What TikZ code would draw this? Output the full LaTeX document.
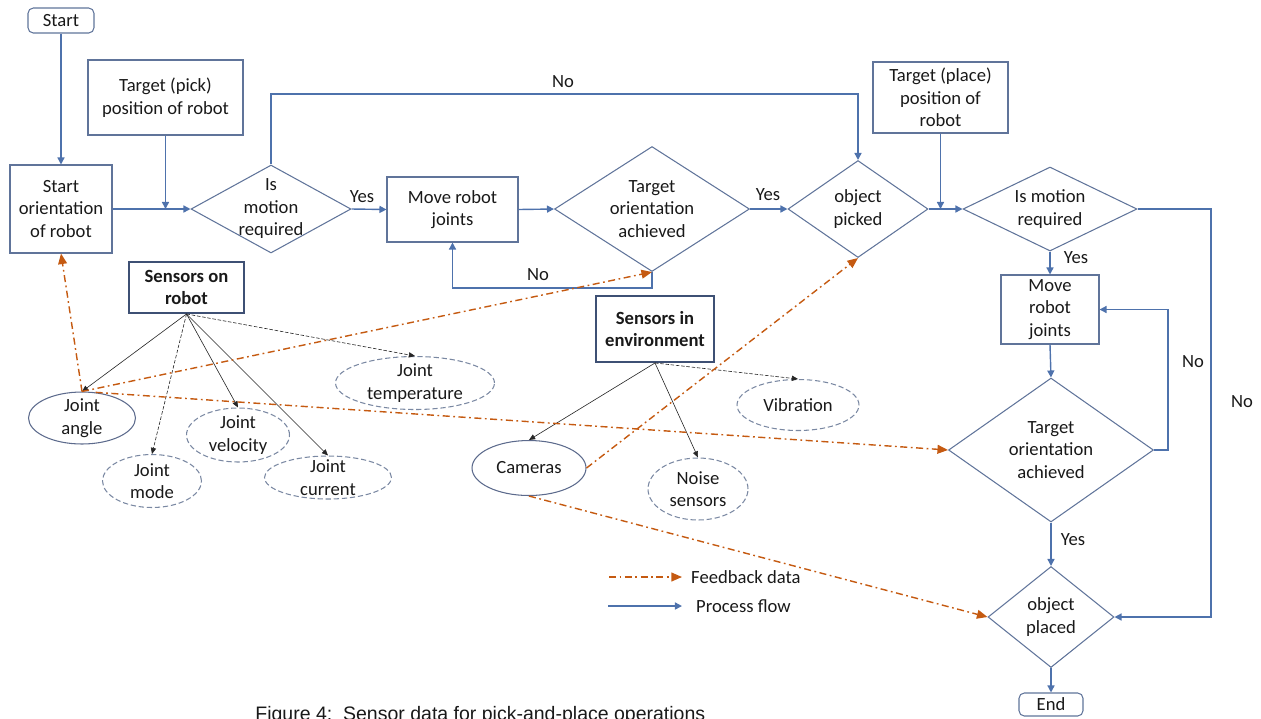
\documentclass[tikz,border=0pt]{standalone}
\usepackage{fontspec}
\setmainfont{Carlito}
\newfontfamily\capfont{Liberation Sans}
\usetikzlibrary{shapes.geometric,arrows.meta,calc}

\definecolor{txt}{RGB}{25,25,25}
\definecolor{shapeline}{RGB}{96,116,154}
\definecolor{sensline}{RGB}{62,80,116}
\definecolor{ellsolid}{RGB}{92,106,140}
\definecolor{elldash}{RGB}{122,136,162}
\definecolor{flowblue}{RGB}{78,114,172}
\definecolor{fborange}{RGB}{197,90,17}

\tikzset{
  base/.style={font=\fontsize{10.6}{12.8}\selectfont, text=txt, align=center},
  procbox/.style={base, rectangle, draw=shapeline, line width=0.6pt, inner sep=0pt},
  termbox/.style={procbox, rounded corners=3pt},
  decision/.style={base, diamond, draw=shapeline, line width=0.6pt, inner sep=-40pt},
  sensorbox/.style={rectangle, draw=sensline, line width=1.1pt, inner sep=0pt,
    text=txt, align=center, font=\fontsize{10.6}{12.8}\selectfont\bfseries},
  meas/.style={base, ellipse, draw=ellsolid, line width=0.6pt, inner sep=-30pt},
  measdash/.style={meas, draw=elldash, dash pattern=on 3pt off 1.6pt},
  flow/.style={draw=flowblue, line width=0.8pt, -{Triangle[length=4pt,width=4pt]}},
  feedback/.style={draw=fborange, line width=0.8pt,
    dash pattern=on 4pt off 2pt on 1pt off 2pt, -{Triangle[length=6pt,width=5pt]}},
  probe/.style={draw=black!85, line width=0.35pt, -{Triangle[length=3.5pt,width=3pt]}},
  probedash/.style={probe, dash pattern=on 2pt off 1pt},
  lbl/.style={base}
}

\begin{document}
\begin{tikzpicture}[x=0.02cm, y=-0.02cm]
\useasboundingbox (0,0) rectangle (1261,718);

% ---- pick phase ----
\node[termbox, minimum width=1.32cm, minimum height=0.5cm] (start) at (61,20.5) {Start};
\node[procbox, minimum width=2.04cm, minimum height=1.76cm] (sor) at (61,209) {Start\\orientation\\of robot};
\node[procbox, minimum width=3.1cm, minimum height=1.5cm] (tpick) at (165.5,97.5) {Target (pick)\\position of robot};
\node[decision, minimum width=3.2cm, minimum height=1.76cm] (d1) at (271,209) {Is\\motion\\required};
\node[procbox, minimum width=2.62cm, minimum height=1.3cm] (mrj1) at (452.5,209.5) {Move robot\\joints};
\node[decision, minimum width=3.9cm, minimum height=2.5cm] (d2) at (652,209) {Target\\orientation\\achieved};
\node[decision, minimum width=2.8cm, minimum height=1.94cm] (opick) at (858,209) {object\\picked};

% ---- place phase ----
\node[procbox, minimum width=2.7cm, minimum height=1.42cm] (tplace) at (940.5,97.5) {Target (place)\\position of\\robot};
\node[decision, minimum width=3.48cm, minimum height=1.68cm] (d3) at (1050,209) {Is motion\\required};
\node[procbox, minimum width=1.96cm, minimum height=1.38cm] (mrj2) at (1050,309.5) {Move\\robot\\joints};
\node[decision, minimum width=4.1cm, minimum height=2.88cm] (d4) at (1051,450) {Target\\orientation\\achieved};
\node[decision, minimum width=2.52cm, minimum height=2.02cm] (oplace) at (1051,617) {object\\placed};
\node[termbox, minimum width=1.28cm, minimum height=0.46cm] (endn) at (1051,704.5) {End};

% ---- sensors ----
\node[sensorbox, minimum width=2.3cm, minimum height=1.02cm] (srob) at (186.5,287.5) {Sensors on\\robot};
\node[sensorbox, minimum width=2.36cm, minimum height=1.32cm] (senv) at (655,329) {Sensors in\\environment};

\node[meas, minimum width=2.14cm, minimum height=1.04cm] (jangle) at (82,418) {Joint\\angle};
\node[measdash, minimum width=2.06cm, minimum height=1.08cm] (jvel) at (238,435) {Joint\\velocity};
\node[measdash, minimum width=3.18cm, minimum height=1.06cm] (jtemp) at (415,383) {Joint\\temperature};
\node[measdash, minimum width=1.98cm, minimum height=1.06cm] (jmode) at (152,481) {Joint\\mode};
\node[measdash, minimum width=2.54cm, minimum height=0.86cm] (jcur) at (328,477.5) {Joint\\current};
\node[meas, minimum width=2.28cm, minimum height=1.1cm] (cam) at (529,468) {Cameras};
\node[measdash, minimum width=2.0cm, minimum height=1.24cm] (noise) at (698,489) {Noise\\sensors};
\node[measdash, minimum width=2.44cm, minimum height=1.02cm] (vib) at (798,405) {Vibration};

% ---- branch labels ----
\node[lbl] (lno1) at (563,82) {No};
\node[lbl] (lyes1) at (362,197) {Yes};
\node[lbl] (lno2) at (538,275) {No};
\node[lbl] (lyes2) at (768,195) {Yes};
\node[lbl] (lyes3) at (1076,258) {Yes};
\node[lbl] (lno3) at (1193,362) {No};
\node[lbl] (lno4) at (1242,402) {No};
\node[lbl] (lyes4) at (1073,540) {Yes};

% ---- routing points ----
\coordinate (noline) at (0,94);
\coordinate (loopbot) at (0,288);
\coordinate (rightrail) at (1211,617);
\coordinate (innerrail) at (1168,309.5);

% ---- process flow ----
\draw[flow] (start.south) -- (sor.north);
\draw[flow] (sor.east) -- (d1.west);
\draw[flow] (tpick.south) -- (tpick.south |- sor.east);
\draw[flow] (d1.north) -- (d1.north |- noline) -- (opick.north |- noline) -- (opick.north);
\draw[flow] (d1.east) -- (mrj1.west);
\draw[flow] (mrj1.east) -- (d2.west);
\draw[flow] (d2.south) -- (d2.south |- loopbot) -- (mrj1.south |- loopbot) -- (mrj1.south);
\draw[flow] (d2.east) -- (opick.west);
\draw[flow] (opick.east) -- (d3.west);
\draw[flow] (tplace.south) -- (tplace.south |- opick.east);
\draw[flow] (d3.south) -- (mrj2.north);
\draw[flow] (d3.east) -| (rightrail) -- (oplace.east);
\draw[flow] (mrj2.south) -- (d4.north);
\draw[flow] (d4.east) -| (innerrail) -- (mrj2.east);
\draw[flow] (d4.south) -- (oplace.north);
\draw[flow] (oplace.south) -- (endn.north);

% ---- sensor fan-out ----
\draw[probe] (srob.south) -- (jangle.north);
\draw[probedash] (srob.south) -- (jmode.north);
\draw[probe] (srob.south) -- (jvel.north);
\draw[probe] (srob.south) -- (jcur.north);
\draw[probedash] (srob.south) -- (jtemp.north);
\draw[probe] (senv.south) -- (cam.north);
\draw[probe] (senv.south) -- (noise.north);
\draw[probedash] (senv.south) -- (vib.north);

% ---- feedback data ----
\draw[feedback] (jangle.north) -- (sor.south);
\draw[feedback] (jangle.north) -- (d2.south);
\draw[feedback] (jangle.62) -- (d4.west);
\draw[feedback] (cam.east) -- (opick.south);
\draw[feedback] (cam.south) -- (oplace.west);

% ---- legend ----
\coordinate (fbA) at (609,577);
\coordinate (fbB) at (682,577);
\coordinate (pfA) at (608,606);
\coordinate (pfB) at (682,606);
\draw[feedback] (fbA) -- (fbB);
\draw[flow] (pfA) -- (pfB);
\node[lbl, anchor=west] (fbtext) at (685,577) {Feedback data};
\node[lbl, anchor=west] (pftext) at (690,606) {Process flow};

% ---- caption ----
\node[anchor=base west, inner sep=0pt, text=txt, font=\capfont\fontsize{11.1}{13}\selectfont] (caption) at (255,720)
  {Figure 4:\ \ Sensor data for pick-and-place operations};
\end{tikzpicture}
\end{document}
